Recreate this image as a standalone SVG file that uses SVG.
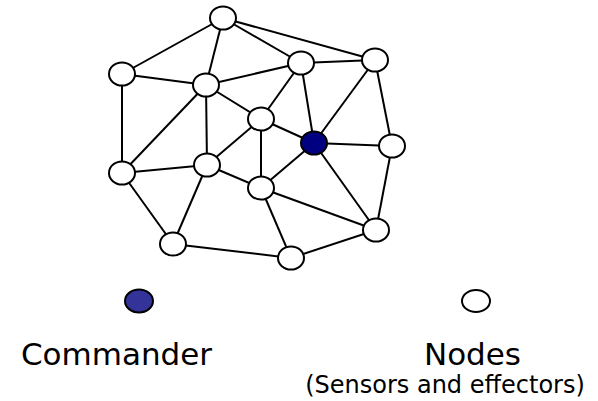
<svg xmlns="http://www.w3.org/2000/svg" width="598" height="401" viewBox="0 0 598 401">
<style>
.edge{stroke:#000;stroke-width:2;fill:none}
.node{fill:#fff;stroke:#000;stroke-width:2}
.cmd{fill:#000080;stroke:#000;stroke-width:2}
.cmdL{fill:#333399;stroke:#000;stroke-width:2}
.lbl{font-family:"DejaVu Sans",Verdana,sans-serif;fill:#000;text-anchor:middle}
</style>
<rect width="598" height="401" fill="#fff"/>
<g id="connectors" class="edge">
<line x1="223" y1="18" x2="122" y2="74"/>
<line x1="223" y1="18" x2="206" y2="85"/>
<line x1="223" y1="18" x2="301" y2="63"/>
<line x1="223" y1="18" x2="375" y2="60"/>
<line x1="122" y1="74" x2="206" y2="85"/>
<line x1="122" y1="74" x2="122" y2="173"/>
<line x1="206" y1="85" x2="301" y2="63"/>
<line x1="206" y1="85" x2="261" y2="119"/>
<line x1="206" y1="85" x2="207" y2="165"/>
<line x1="206" y1="85" x2="122" y2="173"/>
<line x1="301" y1="63" x2="375" y2="60"/>
<line x1="301" y1="63" x2="261" y2="119"/>
<line x1="301" y1="63" x2="314" y2="143"/>
<line x1="375" y1="60" x2="314" y2="143"/>
<line x1="375" y1="60" x2="392" y2="146"/>
<line x1="261" y1="119" x2="314" y2="143"/>
<line x1="261" y1="119" x2="261" y2="188"/>
<line x1="261" y1="119" x2="207" y2="165"/>
<line x1="314" y1="143" x2="392" y2="146"/>
<line x1="314" y1="143" x2="261" y2="188"/>
<line x1="314" y1="143" x2="376" y2="230"/>
<line x1="392" y1="146" x2="376" y2="230"/>
<line x1="122" y1="173" x2="207" y2="165"/>
<line x1="122" y1="173" x2="173" y2="244"/>
<line x1="207" y1="165" x2="261" y2="188"/>
<line x1="207" y1="165" x2="173" y2="244"/>
<line x1="261" y1="188" x2="376" y2="230"/>
<line x1="261" y1="188" x2="291" y2="258"/>
<line x1="173" y1="244" x2="291" y2="258"/>
<line x1="291" y1="258" x2="376" y2="230"/>
</g>
<g id="nA"><ellipse class="node" cx="223" cy="18" rx="13" ry="11.5"/></g>
<g id="nB"><ellipse class="node" cx="122" cy="74" rx="13" ry="11.5"/></g>
<g id="nC"><ellipse class="node" cx="206" cy="85" rx="13" ry="11.5"/></g>
<g id="nD"><ellipse class="node" cx="301" cy="63" rx="13" ry="11.5"/></g>
<g id="nE"><ellipse class="node" cx="375" cy="60" rx="13" ry="11.5"/></g>
<g id="nF"><ellipse class="node" cx="261" cy="119" rx="13" ry="11.5"/></g>
<g id="nG"><ellipse class="cmd" cx="314" cy="143" rx="13" ry="11.5"/></g>
<g id="nH"><ellipse class="node" cx="392" cy="146" rx="13" ry="11.5"/></g>
<g id="nI"><ellipse class="node" cx="122" cy="173" rx="13" ry="11.5"/></g>
<g id="nJ"><ellipse class="node" cx="207" cy="165" rx="13" ry="11.5"/></g>
<g id="nK"><ellipse class="node" cx="261" cy="188" rx="13" ry="11.5"/></g>
<g id="nL"><ellipse class="node" cx="173" cy="244" rx="13" ry="11.5"/></g>
<g id="nM"><ellipse class="node" cx="291" cy="258" rx="13" ry="11.5"/></g>
<g id="nN"><ellipse class="node" cx="376" cy="230" rx="13" ry="11.5"/></g>
<g id="legend-commander">
<ellipse class="cmdL" cx="139" cy="301" rx="14" ry="11.5"/>
<text class="lbl" x="116.5" y="365" font-size="31">Commander</text>
</g>
<g id="legend-nodes">
<ellipse class="node" cx="476" cy="301" rx="14" ry="11"/>
<text class="lbl" x="472.5" y="365" font-size="31">Nodes</text>
<text class="lbl" x="445" y="393" font-size="24">(Sensors and effectors)</text>
</g>
</svg>
